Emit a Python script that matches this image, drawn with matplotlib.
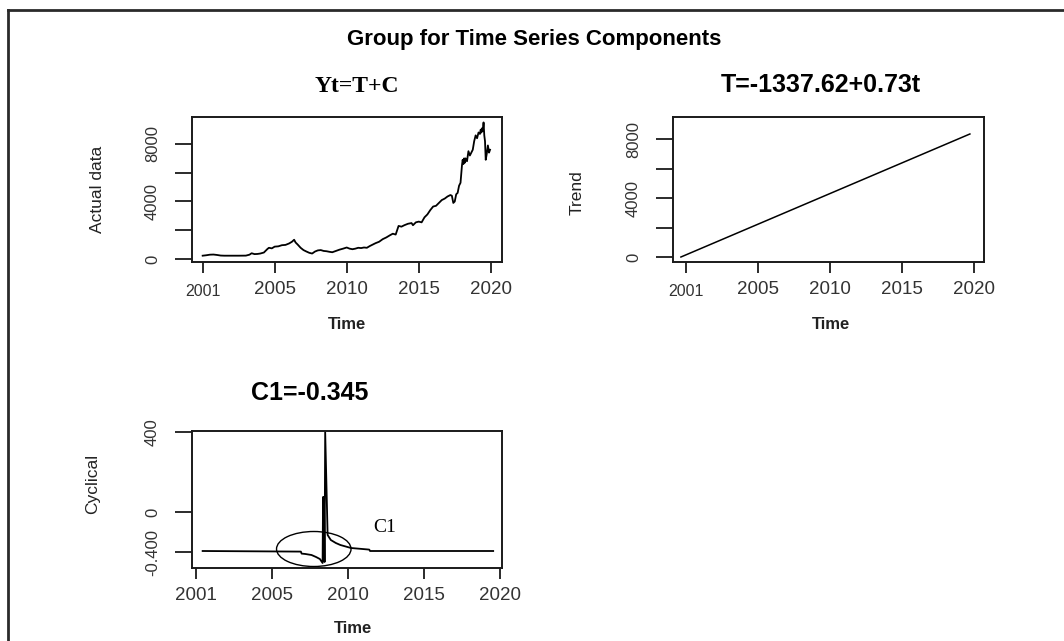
import numpy as np
import matplotlib
matplotlib.use("Agg")
import matplotlib.pyplot as plt
from matplotlib.lines import Line2D
from matplotlib.patches import Ellipse

# ---------------- data ----------------
main_title = "Group for Time Series Components"
titles = ["Yt=T+C", "T=-1337.62+0.73t", "C1=-0.345"]
ylabels = ["Actual data", "Trend", "Cyclical"]
xlabel = "Time"

x_ticks = [2000, 2005, 2010, 2015, 2020]
x_ticklabels = ["2001", "2005", "2010", "2015", "2020"]

act_yticks = [0, 2000, 4000, 6000, 8000]
act_yticklabels = ["0", "", "4000", "", "8000"]
cyc_yticks = [400, 0, -200]
cyc_yticklabels = ["400", "0", "-0.400"]

act_t = [2000.0, 2000.25, 2000.5, 2000.75, 2001.0, 2001.25, 2001.5, 2002.0, 2002.5, 2003.0,
         2003.25, 2003.4, 2003.6, 2003.8, 2004.0, 2004.25, 2004.5, 2004.6, 2004.8, 2005.0,
         2005.25, 2005.5, 2005.75, 2006.0, 2006.2, 2006.35, 2006.45, 2006.6, 2006.8, 2007.0,
         2007.2, 2007.4, 2007.6, 2007.8, 2008.0, 2008.2, 2008.4, 2008.6, 2008.8, 2009.0,
         2009.25, 2009.5, 2009.75, 2010.0, 2010.2, 2010.4, 2010.6, 2010.8, 2011.0, 2011.2,
         2011.4, 2011.6, 2011.8, 2012.0, 2012.25, 2012.5, 2012.75, 2013.0, 2013.2, 2013.4,
         2013.5, 2013.6, 2013.8, 2014.0, 2014.25, 2014.5, 2014.6, 2014.8, 2015.0, 2015.2,
         2015.4, 2015.6, 2015.8, 2016.0, 2016.2, 2016.4, 2016.6, 2016.8, 2017.0, 2017.2,
         2017.3, 2017.4, 2017.5, 2017.6, 2017.7, 2017.8, 2017.9, 2018.0, 2018.05, 2018.1,
         2018.15, 2018.2, 2018.25, 2018.35, 2018.45, 2018.55, 2018.65, 2018.75, 2018.85, 2018.95,
         2019.05, 2019.15, 2019.25, 2019.3, 2019.35, 2019.4, 2019.45, 2019.5, 2019.55, 2019.6,
         2019.65, 2019.72, 2019.8, 2019.88, 2019.95]
act_v = [230, 260, 300, 310, 280, 240, 230, 230, 230, 235,
         300, 400, 340, 350, 380, 450, 700, 780, 740, 860,
         880, 960, 980, 1080, 1200, 1340, 1150, 1000, 780, 620,
         520, 430, 380, 520, 600, 620, 560, 540, 500, 470,
         560, 650, 720, 800, 720, 680, 720, 780, 760, 800,
         780, 900, 1000, 1100, 1200, 1380, 1500, 1650, 1760, 1700,
         2000, 2300, 2250, 2350, 2450, 2500, 2350, 2550, 2600, 2550,
         2900, 3100, 3400, 3650, 3700, 3900, 4100, 4200, 4350, 4450,
         4400, 3900, 4000, 4500, 4600, 5100, 5300, 6500, 6900, 6600,
         7000, 6700, 7000, 6800, 7500, 7200, 7400, 7600, 8200, 8600,
         8400, 8800, 8700, 9000, 8800, 9100, 8900, 9500, 8600, 8200,
         6900, 7300, 7900, 7400, 7600]

trend_t = [1999.65, 2019.72]
trend_v = [0, 8340]

cyc_t = [2000.44, 2006.9, 2006.95, 2007.2, 2007.6, 2007.9, 2008.15, 2008.33, 2008.36, 2008.39,
         2008.42, 2008.46, 2008.5, 2008.66, 2008.87, 2009.2, 2009.5, 2010.2, 2011.4, 2011.45,
         2019.55]
cyc_v = [-195, -198, -208, -210, -215, -225, -235, -255, 75, -245,
         75, -250, 400, -115, -140, -155, -165, -180, -188, -195,
         -195]

ann_text = "C1"

# ---------------- figure ----------------
W, H = 1064, 641
fig = plt.figure(figsize=(W / 100, H / 100), dpi=100)
fig.patch.set_facecolor("white")


def fbox(x0, y0, x1, y1):
    return [x0 / W, 1 - y1 / H, (x1 - x0) / W, (y1 - y0) / H]


ink = "#1a1a1a"
tick_col = "#333333"

ax1 = fig.add_axes(fbox(192, 117, 502, 262))
ax2 = fig.add_axes(fbox(673, 117, 984, 262))
ax3 = fig.add_axes(fbox(192, 431, 502, 568))

ax1.plot(act_t, act_v, color="black", lw=1.3)
ax2.plot(trend_t, trend_v, color="black", lw=1.1)
ax3.plot(cyc_t, cyc_v, color="black", lw=1.3)

ax1.set_xlim(1999.26, 2020.78)
ax1.set_ylim(-209, 9878)
ax2.set_xlim(1999.1, 2020.7)
ax2.set_ylim(-339, 9492)
ax3.set_xlim(1999.74, 2020.13)
ax3.set_ylim(-280, 405)

for ax in (ax1, ax2, ax3):
    ax.set_xticks(x_ticks)
    ax.set_xticklabels(x_ticklabels, fontsize=13.5, family="Liberation Sans", color=tick_col)
    for s in ax.spines.values():
        s.set_color(ink)
        s.set_linewidth(1.4)
    ax.tick_params(axis="x", length=8, width=1.3, color=ink, pad=6)
    ax.tick_params(axis="y", length=12, width=1.3, color=ink, pad=11)

for ax in (ax1, ax2):
    ax.set_yticks(act_yticks)
    ax.set_yticklabels(act_yticklabels, rotation=90, va="center", fontsize=12,
                       family="Liberation Sans", color=tick_col)
    lab = ax.get_xticklabels()[0]
    lab.set_fontsize(11.5)
    lab.set_y(-0.015)

ax3.set_yticks(cyc_yticks)
ax3.set_yticklabels(cyc_yticklabels, rotation=90, va="center", fontsize=12,
                    family="Liberation Sans", color=tick_col)

# axis labels
ylab_pos = [(-0.306, 0.5), (-0.309, 0.476), (-0.319, 0.61)]
xlab_pos = [(0.5, -0.434), (0.508, -0.434), (0.52, -0.438)]
for ax, yl, yp, xp in zip((ax1, ax2, ax3), ylabels, ylab_pos, xlab_pos):
    ax.set_ylabel(yl, fontsize=12.5, family="Liberation Sans", color="#222222",
                  ha="center", va="center")
    ax.yaxis.set_label_coords(*yp)
    ax.set_xlabel(xlabel, fontsize=12, fontweight="bold", family="Liberation Sans",
                  color="#222222", ha="center", va="center")
    ax.xaxis.set_label_coords(*xp)

# titles
ax1.set_title(titles[0], x=0.532, y=1.207, va="center", pad=0, fontsize=17,
              fontweight="bold", family="Liberation Serif")
ax2.set_title(titles[1], x=0.476, y=1.221, va="center", pad=0, fontsize=18,
              fontweight="bold", family="Liberation Sans")
ax3.set_title(titles[2], x=0.381, y=1.277, va="center", pad=0, fontsize=18,
              fontweight="bold", family="Liberation Sans")
fig.suptitle(main_title, x=534 / W, y=1 - 40 / H, va="center", fontsize=16,
             fontweight="bold", family="Liberation Sans")

# annotation on the cyclical panel
ax3.add_patch(Ellipse((2007.75, -185), 4.9, 175, fill=False, edgecolor="black", lw=1.0))
ax3.text(2012.4, -75, ann_text, fontsize=14, family="Liberation Serif", ha="center",
         va="center", color="black")

# outer frame (left and top edges)
fig.add_artist(Line2D([8 / W, 8 / W], [0, 1 - 10 / H], transform=fig.transFigure,
                      color="#2a2a2a", lw=2))
fig.add_artist(Line2D([8 / W, 1], [1 - 10 / H, 1 - 10 / H], transform=fig.transFigure,
                      color="#2a2a2a", lw=2))

fig.savefig("out.png", dpi=100, facecolor="white")
